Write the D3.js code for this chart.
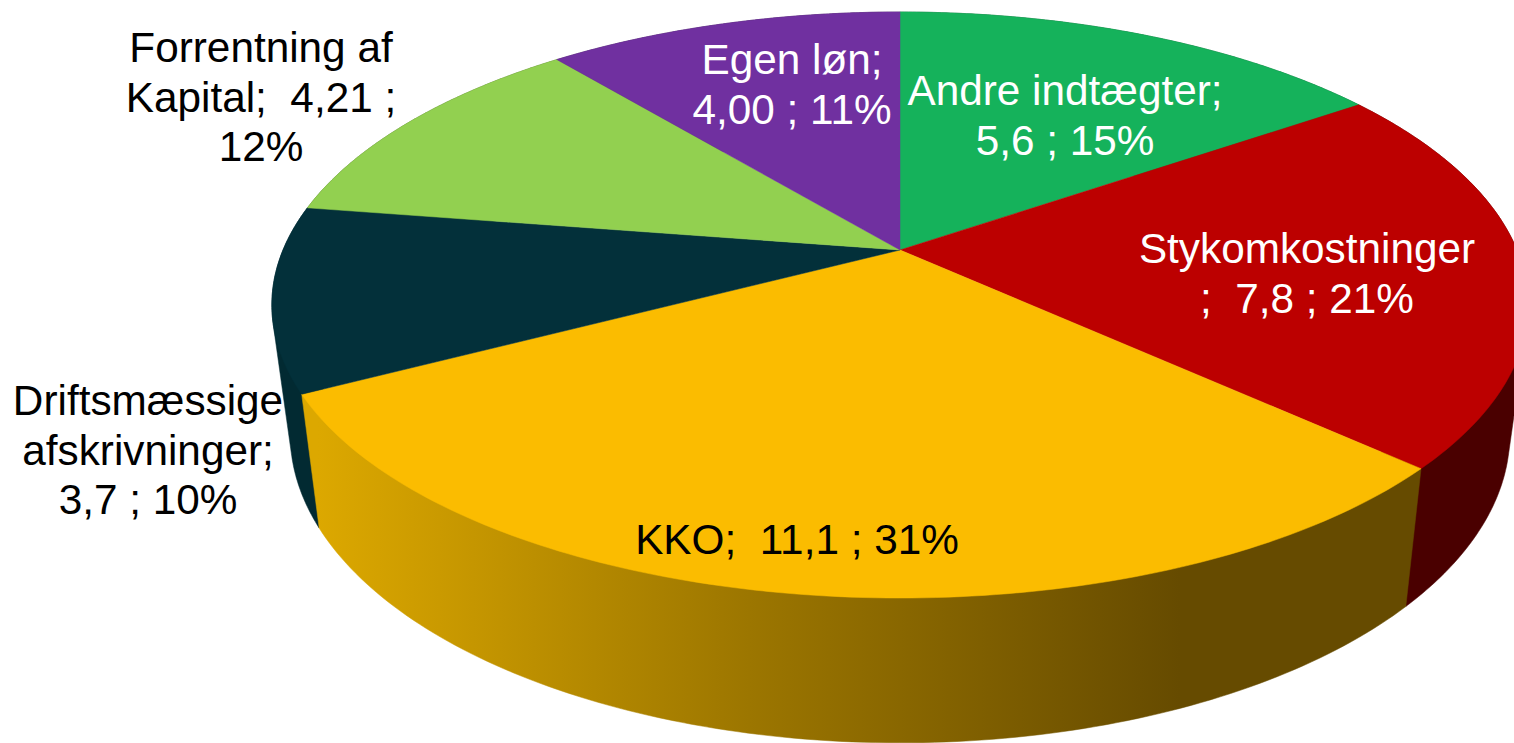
<!DOCTYPE html>
<html><head><meta charset="utf-8">
<script src="https://cdn.jsdelivr.net/npm/d3@7"></script>
<style>html,body{margin:0;padding:0;background:#fff;overflow:hidden}svg{display:block}</style>
</head><body><svg id="c" width="1514" height="743"></svg>
<script>
// Data
const categories = ["Andre indtægter","Stykomkostninger","KKO","Driftsmæssige afskrivninger","Forrentning af Kapital","Egen løn"];
const values = [5.6,7.8,11.1,3.7,4.21,4.00];
const topColors = ["#15b25b","#bc0000","#fbbc00","#03303a","#92d050","#7030a0"];
const sideColors = ["#0b5a2e","#4a0000","url(#kkoSide)","#022a32","#4a6828","#38184f"];
const labelLines = [
  ["Andre indtægter;","5,6 ; 15%"],
  ["Stykomkostninger","; \u00a07,8 ; 21%"],
  ["KKO; \u00a011,1 ; 31%"],
  ["Driftsmæssige","afskrivninger;","3,7 ; 10%"],
  ["Forrentning af","Kapital; \u00a04,21 ;","12%"],
  ["Egen løn;","4,00 ; 11%"]
];
const labelColors = ["#fff","#fff","#000","#000","#000","#fff"];
const labelAnchors = [[1065,105],[1307,263],[797,554],[148,415],[261,62],[792,74]];

const svg = d3.select("#c");
const defs = svg.append("defs");
const g = defs.append("linearGradient").attr("id","kkoSide")
  .attr("gradientUnits","userSpaceOnUse").attr("x1",318).attr("x2",1180).attr("y1",0).attr("y2",0);
g.append("stop").attr("offset",0).attr("stop-color","#dca800");
g.append("stop").attr("offset",0.5).attr("stop-color","#9c7600");
g.append("stop").attr("offset",1).attr("stop-color","#664b00");

// Perspective discs: top face and bottom face of the pie
const P = 0.1877;
const topDisc = {cx:900, cy:250, k:617, m:282.7};
const botDisc = {cx:900, cy:376, k:599, m:298};
const project = (d,a,r=1) => {
  const u = r*Math.sin(a), v = -r*Math.cos(a), w = 1 - P*v;
  return [d.cx + d.k*u/w, d.cy + d.m*v/w];
};
const arcs = d3.pie().sort(null).value(d=>d)(values);
const line = d3.line();
const sample = (a0,a1) => d3.range(0,121).map(i=>a0+(a1-a0)*i/120);

const sides = svg.append("g");
const tops = svg.append("g");
// walls are painted far to near, so the nearest slice's wall ends on top
const nearness = s => -Math.cos((s.startAngle+s.endAngle)/2);
d3.sort(arcs.map((s,i)=>({s,i})), d=>nearness(d.s)).forEach(({s,i})=>{
  const th = sample(s.startAngle,s.endAngle);
  // convex hull of both rims gives the straight silhouette of the wall
  const hull = d3.polygonHull(th.map(a=>project(topDisc,a)).concat(th.map(a=>project(botDisc,a))));
  sides.append("path").attr("d",line(hull)+"Z").attr("fill",sideColors[i]).attr("stroke",sideColors[i]).attr("stroke-width",0.5);
});
arcs.forEach((s,i)=>{
  const th = sample(s.startAngle,s.endAngle);
  const poly = [[topDisc.cx,topDisc.cy]].concat(th.map(a=>project(topDisc,a)));
  tops.append("path").attr("d",line(poly)+"Z").attr("fill",topColors[i]).attr("stroke",topColors[i]).attr("stroke-width",0.5);
});

const lh = 49.5;
labelLines.forEach((ls,i)=>{
  const t = svg.append("text").attr("text-anchor","middle")
    .attr("font-family","'Liberation Sans',Arial,sans-serif").attr("font-size",42.3).attr("fill",labelColors[i]);
  ls.forEach((l,j)=>t.append("tspan").attr("x",labelAnchors[i][0]).attr("y",labelAnchors[i][1]+j*lh).text(l));
});
</script></body></html>
